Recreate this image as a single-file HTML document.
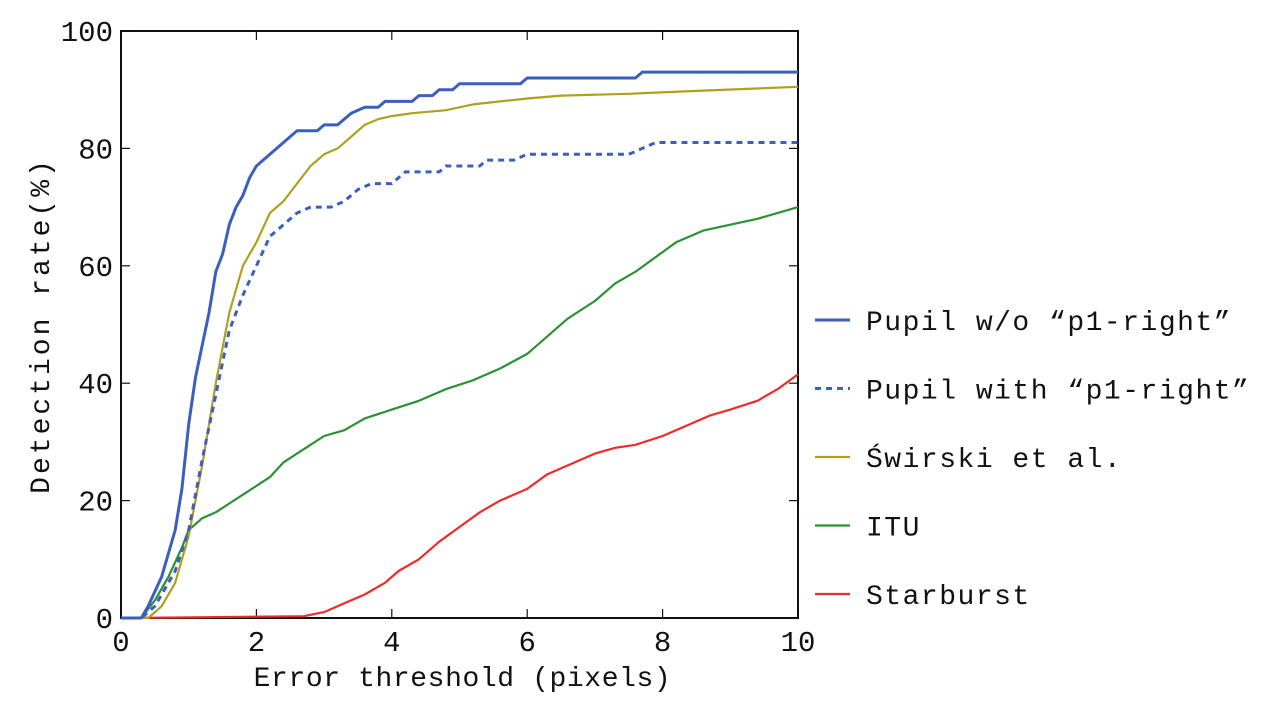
<!DOCTYPE html>
<html><head><meta charset="utf-8"><style>
body{margin:0;background:#fff;}
svg text{font-family:"Liberation Mono","DejaVu Sans Mono",monospace;fill:#111;}
</style></head><body>
<svg width="1270" height="707">
<g id="axes"></g><g id="series"></g><g id="legend"></g>
</svg>
<script>
const xTicks=[0,2,4,6,8,10];
const yTicks=[0,20,40,60,80,100];
const seriesNames=["Pupil w/o \u201cp1-right\u201d","Pupil with \u201cp1-right\u201d","\u015awirski et al.","ITU","Starburst"];
const pupilX=[0,0.3,0.4,0.6,0.8,0.9,1.0,1.1,1.3,1.4,1.5,1.6,1.7,1.8,1.9,2.0,2.2,2.4,2.6,2.9,3.0,3.2,3.4,3.6,3.8,3.9,4.3,4.4,4.6,4.7,4.9,5.0,5.9,6.0,7.6,7.7,10];
const pupilY=[0,0,2,7,15,22,33,41,52,59,62,67,70,72,75,77,79,81,83,83,84,84,86,87,87,88,88,89,89,90,90,91,91,92,92,93,93];
const pupilP1X=[0,0.3,0.5,0.8,1.0,1.2,1.4,1.6,1.8,2.0,2.2,2.4,2.6,2.8,3.1,3.3,3.5,3.7,4.0,4.2,4.7,4.8,5.3,5.4,5.8,6.0,7.5,7.7,7.9,10];
const pupilP1Y=[0,0,2,8,15,27,38,49,55,60,65,67,69,70,70,71,73,74,74,76,76,77,77,78,78,79,79,80,81,81];
const swirskiX=[0,0.4,0.6,0.8,1.0,1.2,1.4,1.6,1.8,2.0,2.2,2.4,2.6,2.8,3.0,3.2,3.4,3.6,3.8,4.0,4.3,4.8,5.2,5.6,6.0,6.5,7.5,8.5,10];
const swirskiY=[0,0,2,6,14,26,40,52,60,64,69,71,74,77,79,80,82,84,85,85.5,86,86.5,87.5,88,88.5,89,89.3,89.8,90.5];
const ituX=[0,0.3,0.5,0.7,0.9,1.0,1.2,1.4,1.6,1.8,2.0,2.2,2.4,2.6,2.8,3.0,3.3,3.6,4.0,4.4,4.8,5.2,5.6,6.0,6.3,6.6,7.0,7.3,7.6,7.9,8.2,8.6,9.0,9.4,10];
const ituY=[0,0,3,7,12,15,17,18,19.5,21,22.5,24,26.5,28,29.5,31,32,34,35.5,37,39,40.5,42.5,45,48,51,54,57,59,61.5,64,66,67,68,70];
const starX=[0,2.7,3.0,3.3,3.6,3.9,4.1,4.4,4.7,5.0,5.3,5.6,6.0,6.3,6.6,7.0,7.3,7.6,8.0,8.3,8.7,9.0,9.4,9.7,10];
const starY=[0,0.3,1,2.5,4,6,8,10,13,15.5,18,20,22,24.5,26,28,29,29.5,31,32.5,34.5,35.5,37,39,41.5];

const L=121,R=798,T=31,B=618;
const xs=v=>L+(R-L)*v/10, ys=v=>B-(B-T)*v/100;
const NS="http://www.w3.org/2000/svg";
function mk(tag,attrs,parent,txt){const e=document.createElementNS(NS,tag);for(const k in attrs)e.setAttribute(k,attrs[k]);if(txt!==undefined)e.textContent=txt;parent.appendChild(e);return e;}
const axes=document.getElementById('axes');
const frame=mk('rect',{x:L,y:T,width:R-L,height:B-T,fill:'none',stroke:'#111','stroke-width':2},axes);


xTicks.forEach(t=>{
  const x=xs(t);
  mk('line',{x1:x,x2:x,y1:B,y2:B-9,stroke:'#111','stroke-width':1.2},axes);
  mk('line',{x1:x,x2:x,y1:T,y2:T+9,stroke:'#111','stroke-width':1.2},axes);
  const tx=mk('text',{x:x,y:B+33,'text-anchor':'middle','font-size':29},axes,String(t));
  
  
});
yTicks.forEach(t=>{
  const y=ys(t);
  mk('line',{x1:L,x2:L+9,y1:y,y2:y,stroke:'#111','stroke-width':1.2},axes);
  mk('line',{x1:R,x2:R-9,y1:y,y2:y,stroke:'#111','stroke-width':1.2},axes);
  const tx=mk('text',{x:L-8,y:y+10,'text-anchor':'end','font-size':29},axes,String(t));
  
  
});
const xt=mk('text',{x:(L+R)/2+3,y:686,'text-anchor':'middle','font-size':28,'letter-spacing':0.6},axes,'Error threshold (pixels)');


const yt=mk('text',{x:0,y:0,'text-anchor':'middle','font-size':28,'letter-spacing':3,transform:`translate(49,${(T+B)/2+1}) rotate(-90)`},axes,'Detection rate(%)');



const colors=['#3a5fbf','#3a5fbf','#b0a020','#2a9235','#ee2b2b'];
const dashes=['none','6,5','none','none','none'];
const widths=[3,3,2.2,2.2,2.2];
const data=[[pupilX,pupilY],[pupilP1X,pupilP1Y],[swirskiX,swirskiY],[ituX,ituY],[starX,starY]];
const keys=['pupil-line','pupil-p1-line','swirski-line','itu-line','starburst-line'];
const sg=document.getElementById('series');
const order=[4,3,2,1,0];
order.forEach(i=>{
  const [X,Y]=data[i];
  const d=X.map((v,j)=>(j?'L':'M')+xs(v).toFixed(1)+','+ys(Y[j]).toFixed(1)).join(' ');
  const p=mk('path',{d:d,fill:'none',stroke:colors[i],'stroke-width':widths[i],'stroke-dasharray':dashes[i],'stroke-linejoin':'round'},sg);
  
  
});
const lg=document.getElementById('legend');
seriesNames.forEach((n,i)=>{
  const y=320+i*68.5;
  const g=mk('g',{},lg);
  
  
  mk('line',{x1:815,x2:850,y1:y,y2:y,stroke:colors[i],'stroke-width':widths[i],'stroke-dasharray':dashes[i]},g);
  mk('text',{x:866,y:y+10,'font-size':28,'letter-spacing':1.5},g,n);
});
</script>
</body></html>
